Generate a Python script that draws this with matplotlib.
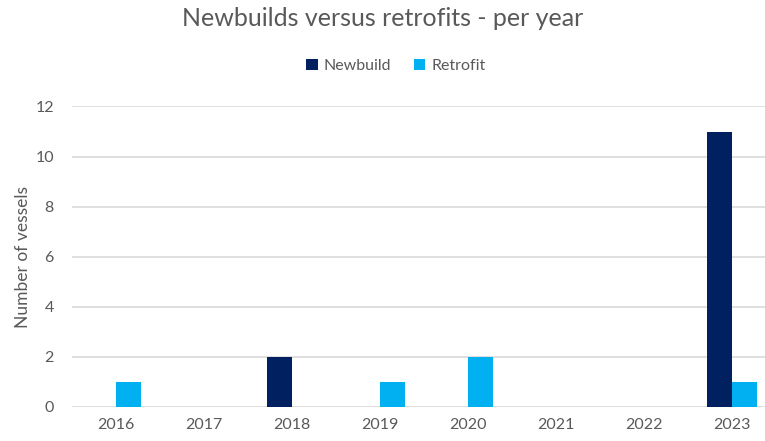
import matplotlib
matplotlib.use("Agg")
import matplotlib.pyplot as plt
import numpy as np

years = ["2016", "2017", "2018", "2019", "2020", "2021", "2022", "2023"]
newbuild = [0, 0, 2, 0, 0, 0, 0, 11]
retrofit = [1, 0, 0, 1, 2, 0, 0, 1]
series_names = ["Newbuild", "Retrofit"]
colors = ["#002060", "#00B0F0"]

plt.rcParams["font.family"] = ["Lato", "DejaVu Sans"]
text_color = "#595959"

fig = plt.figure(figsize=(7.65, 4.41), dpi=100)
ax = fig.add_axes([72 / 765, 34 / 441, 704 / 765, 300.5 / 441])

x = np.arange(len(years))
w = 0.284
ax.bar(x - w / 2, newbuild, w, color=colors[0], label=series_names[0], zorder=3)
ax.bar(x + w / 2, retrofit, w, color=colors[1], label=series_names[1], zorder=3)

ax.set_xlim(-0.5, len(years) - 0.5)
ax.set_ylim(0, 12)
ax.set_yticks(range(0, 13, 2))
ax.set_xticks(x)
ax.set_xticklabels(years)
ax.yaxis.grid(True, color="#d9d9d9", linewidth=1.2, zorder=0)
ax.set_axisbelow(True)
for s in ax.spines.values():
    s.set_visible(False)
ax.tick_params(axis="both", length=0, labelsize=11.5, colors=text_color)
ax.tick_params(axis="y", pad=13)
ax.tick_params(axis="x", pad=8)
ax.set_ylabel("Number of vessels", fontsize=12.5, color=text_color, labelpad=3)

fig.text(0.5, 1 - 19 / 441, "Newbuilds versus retrofits - per year",
         ha="center", va="center", fontsize=18, color=text_color)

leg = fig.legend(loc="center", bbox_to_anchor=(396 / 765, 1 - 66 / 441), ncol=2,
                 frameon=False, fontsize=11.5, handlelength=0.7, handleheight=0.7,
                 handletextpad=0.4, columnspacing=1.4)
for t in leg.get_texts():
    t.set_color(text_color)

fig.savefig("out.png", dpi=100)
